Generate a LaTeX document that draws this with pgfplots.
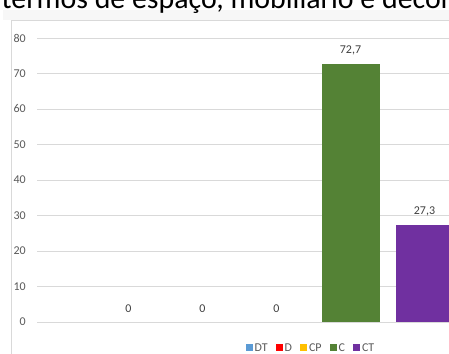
\documentclass[border=0pt]{standalone}
\usepackage{fontspec}
\setmainfont{Carlito}
\usepackage{pgfplots}
\pgfplotsset{compat=1.18}
\definecolor{cDT}{HTML}{5B9BD5}
\definecolor{cD}{HTML}{FF0000}
\definecolor{cCP}{HTML}{FFC000}
\definecolor{cC}{HTML}{548235}
\definecolor{cCT}{HTML}{7030A0}
\definecolor{txtgray}{HTML}{595959}
\definecolor{gridgray}{HTML}{D9D9D9}

\begin{document}
\begin{tikzpicture}
\clip (0,0) rectangle (449bp,354bp);
\fill[white] (0,0) rectangle (449bp,354bp);
% strip under the title and the chart frame (cut off at the right and bottom)
\fill[gray!6] (3bp,334bp) rectangle (449bp,344bp);
\draw[gridgray, line width=0.8bp] (11bp,0) -- (11bp,334bp) -- (449bp,334bp);
\node[anchor=base west, inner sep=0, font=\fontsize{30}{35}\selectfont] at (1.5bp,345bp)
  {termos de espaço, mobiliário e decoração};
\begin{axis}[
    at={(37bp,32bp)}, anchor=south west,
    scale only axis, width=412bp, height=284bp,
    xmin=-1.2365, xmax=4.331,
    ymin=0, ymax=80,
    ytick={0,10,...,80},
    xtick=\empty,
    ymajorgrids,
    grid style={gridgray, line width=0.8bp},
    axis line style={draw=none},
    major tick length=0pt,
    /pgf/number format/assume math mode=true,
    yticklabel style={font=\fontsize{12}{14}\selectfont, text=txtgray,
        anchor=east, inner sep=0pt, xshift=-11bp},
    ybar, bar width=58bp, bar shift=0pt,
    nodes near coords={\pgfmathprintnumber[use comma,fixed,precision=1]{\pgfplotspointmeta}},
    every node near coord/.append style={font=\fontsize{12}{14}\selectfont,
        text=black!75, inner sep=0pt, yshift=9bp},
    legend columns=-1,
    legend style={at={(0.665,-0.0915)}, anchor=center, draw=none, fill=none,
        font=\fontsize{12}{14}\selectfont, text=txtgray,
        inner sep=0pt, nodes={inner xsep=2bp, inner ysep=0pt},
        /tikz/every even column/.append style={column sep=6bp}},
    legend image code/.code={\fill[#1] (0bp,-3.5bp) rectangle (7bp,3.5bp);},
]
\addplot[fill=cDT, draw=none] coordinates {(0,0)};
\addplot[fill=cD, draw=none] coordinates {(1,0)};
\addplot[fill=cCP, draw=none] coordinates {(2,0)};
\addplot[fill=cC, draw=none] coordinates {(3,72.7)};
\addplot[fill=cCT, draw=none] coordinates {(4,27.3)};
\legend{DT,D,CP,C,CT}
\end{axis}
\end{tikzpicture}
\end{document}
